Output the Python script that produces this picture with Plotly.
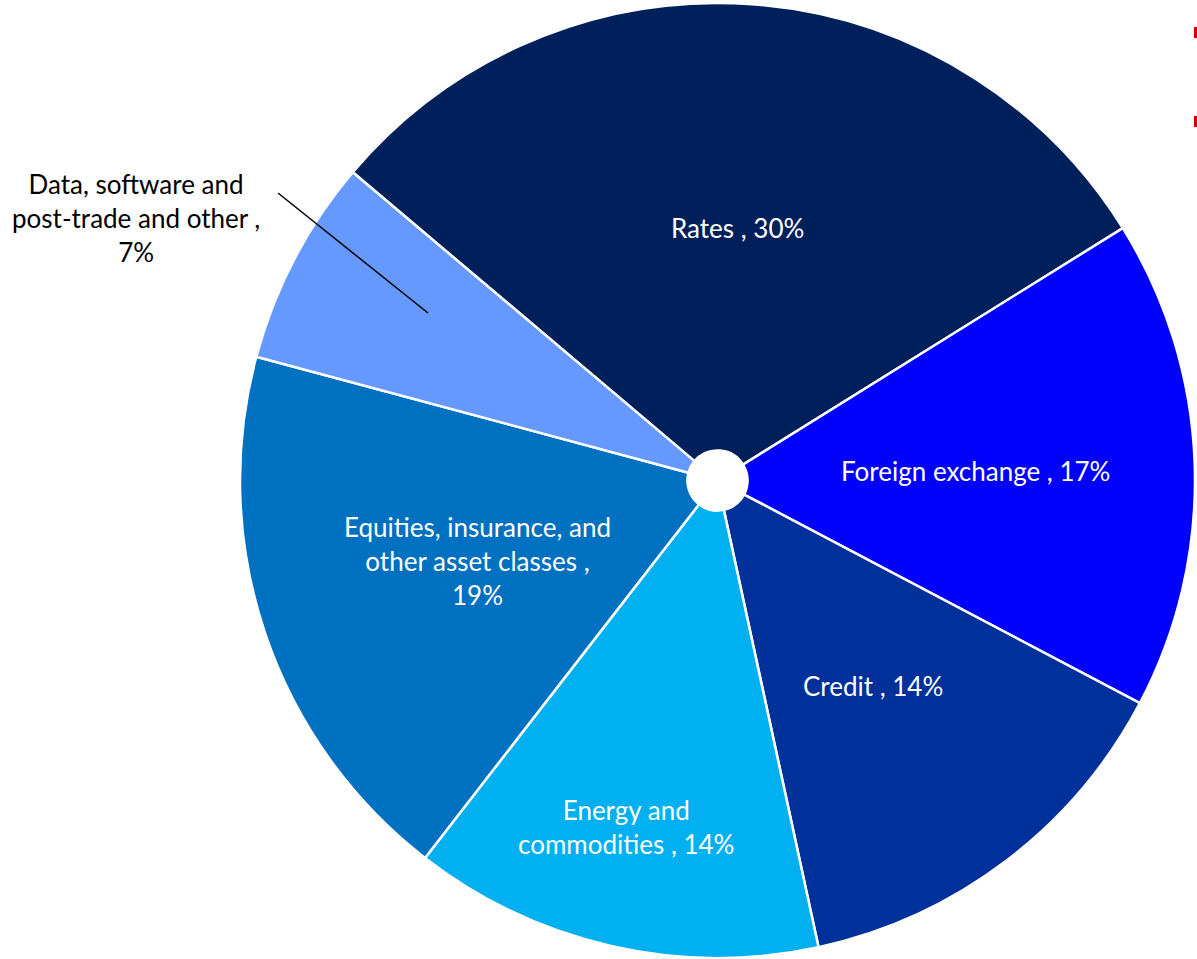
import math
import plotly.graph_objects as go

# ---- data ----
categories = [
    "Rates",
    "Foreign exchange",
    "Credit",
    "Energy and commodities",
    "Equities, insurance, and other asset classes",
    "Data, software and post-trade and other",
]
values = [30.0, 16.6, 13.9, 13.9, 18.7, 7.0]
pct_labels = ["30%", "17%", "14%", "14%", "19%", "7%"]
label_lines = [
    ["Rates , 30%"],
    ["Foreign exchange , 17%"],
    ["Credit , 14%"],
    ["Energy and", "commodities , 14%"],
    ["Equities, insurance, and", "other asset classes ,", "19%"],
    ["Data, software and", "post-trade and other ,", "7%"],
]
colors = ["#00205B", "#0000FF", "#00309A", "#00B0F0", "#0070C0", "#6699FF"]

# ---- layout / style ----
W, H = 1197, 959
CX, CY, R = 717.5, 480.5, 477.5
START_ANGLE = 310.2  # clockwise from 12 o'clock
label_r = [0.53, 0.54, 0.54, 0.75, 0.53, None]
label_dtheta = [0.5, 0.0, 0.0, 2.0, 0.0, 0.0]
FONT = "Lato, Calibri, Carlito, sans-serif"
FS = 26

fig = go.Figure()
fig.add_trace(go.Pie(
    labels=categories,
    values=values,
    sort=False,
    direction="clockwise",
    rotation=START_ANGLE,
    hole=0.063,
    marker=dict(colors=colors, line=dict(color="white", width=2.5)),
    textinfo="none",
    hoverinfo="label+percent",
    showlegend=False,
    domain=dict(x=[(CX - R) / W, (CX + R) / W], y=[1 - (CY + R) / H, 1 - (CY - R) / H]),
))

annotations = []
total = sum(values)
cum = 0.0
for i, v in enumerate(values):
    a0 = START_ANGLE + cum / total * 360
    a1 = a0 + v / total * 360
    cum += v
    if label_r[i] is None:
        continue
    mid = math.radians((a0 + a1) / 2 + label_dtheta[i])
    px = CX + label_r[i] * R * math.sin(mid)
    py = CY - label_r[i] * R * math.cos(mid)
    annotations.append(dict(
        x=px / W, y=1 - py / H, xref="paper", yref="paper",
        text="<br>".join(label_lines[i]), showarrow=False,
        font=dict(family=FONT, size=FS, color="white"),
        align="center", xanchor="center", yanchor="middle",
    ))

# outside label for the small slice
annotations.append(dict(
    x=136 / W, y=1 - 218 / H, xref="paper", yref="paper",
    text="<br>".join(label_lines[5]), showarrow=False,
    font=dict(family=FONT, size=FS, color="black"),
    align="center", xanchor="center", yanchor="middle",
))

shapes = [
    dict(type="line", xref="paper", yref="paper",
         x0=278 / W, y0=1 - 193 / H, x1=428 / W, y1=1 - 313 / H,
         line=dict(color="black", width=1.5)),
    dict(type="rect", xref="paper", yref="paper",
         x0=1194 / W, x1=1197 / W, y0=1 - 38 / H, y1=1 - 27 / H,
         fillcolor="#D00000", line=dict(width=0)),
    dict(type="rect", xref="paper", yref="paper",
         x0=1194 / W, x1=1197 / W, y0=1 - 127 / H, y1=1 - 116 / H,
         fillcolor="#D00000", line=dict(width=0)),
]

fig.update_layout(
    width=W, height=H,
    margin=dict(l=0, r=0, t=0, b=0),
    paper_bgcolor="white", plot_bgcolor="white",
    annotations=annotations, shapes=shapes,
    font=dict(family=FONT),
)

fig.write_html(
    "out.html",
    config={"displayModeBar": False},
    post_script="document.body.style.margin='0';document.body.style.overflow='hidden';",
)
